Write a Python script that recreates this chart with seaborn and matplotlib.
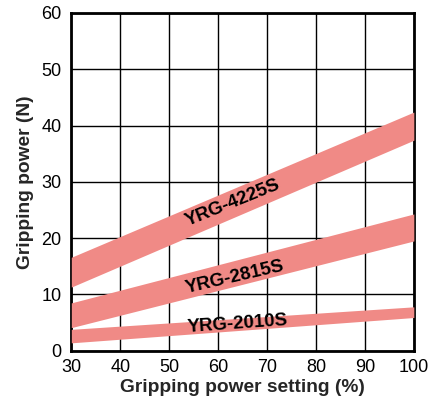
import numpy as np
import pandas as pd
import seaborn as sns
import matplotlib
matplotlib.use('Agg')
from matplotlib import pyplot as plt

# band edges (gripping power setting -> N)
setting = [30, 100]
models = ['YRG-4225S', 'YRG-2815S', 'YRG-2010S']
lower = {'YRG-4225S': [11.3, 37.4], 'YRG-2815S': [4.1, 19.5], 'YRG-2010S': [1.4, 5.9]}
upper = {'YRG-4225S': [16.6, 42.4], 'YRG-2815S': [8.5, 24.3], 'YRG-2010S': [3.8, 7.8]}
# label anchor (x, y) and angle
label_pos = {'YRG-4225S': (63.0, 26.2, 22), 'YRG-2815S': (63.5, 13.1, 13), 'YRG-2010S': (64.0, 4.8, 4)}

sns.set_style('white')
plt.rcParams['font.family'] = ['Liberation Sans', 'DejaVu Sans']

fig, ax = plt.subplots(figsize=(4.32, 4.05), dpi=100)
fig.subplots_adjust(left=0.165, right=0.958, top=0.968, bottom=0.134)

for m in models:
    df = pd.DataFrame({'x': setting, 'lo': lower[m], 'hi': upper[m]})
    ax.fill_between(df['x'], df['lo'], df['hi'], color='#f08a86', lw=0, zorder=3)
    tx, ty, rot = label_pos[m]
    ax.text(tx, ty, m, ha='center', va='center', rotation=rot,
            fontsize=13.5, fontweight='bold', color='black', zorder=4)

ax.set_xlim(30, 100)
ax.set_ylim(0, 60)
ax.set_xticks(np.arange(30, 101, 10))
ax.set_yticks(np.arange(0, 61, 10))
ax.grid(True, color='black', lw=1, zorder=1)
ax.set_axisbelow(True)
for s in ax.spines.values():
    s.set_visible(True)
    s.set_color('black')
    s.set_linewidth(2)
ax.tick_params(labelsize=13, length=0, colors='black')
ax.tick_params(axis='x', pad=6)
ax.tick_params(axis='y', pad=7)
ax.set_xlabel('Gripping power setting (%)', fontsize=13.8, fontweight='bold', labelpad=2)
ax.set_ylabel('Gripping power (N)', fontsize=13.8, fontweight='bold', labelpad=5)

fig.savefig('out.png', dpi=100)
